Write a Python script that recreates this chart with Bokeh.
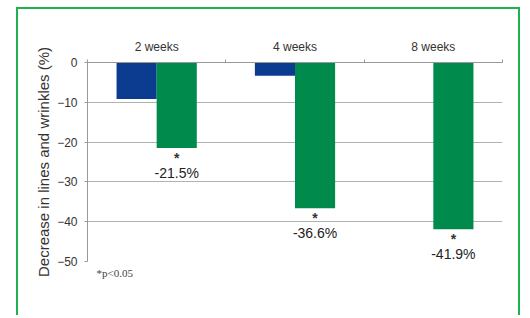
from bokeh.plotting import figure
from bokeh.models import ColumnDataSource, FixedTicker, LinearAxis, Range1d, Title
from bokeh.transform import dodge
from bokeh.embed import file_html
from bokeh.resources import INLINE
from bokeh.core.properties import value

weeks = ["2 weeks", "4 weeks", "8 weeks"]
control = [-9.2, -3.3, 0.0]
treated = [-21.5, -36.6, -41.9]
treated_labels = ["-21.5%", "-36.6%", "-41.9%"]
y_ticks = [-50, -40, -30, -20, -10, 0]

centers = [i + 0.5 for i in range(len(weeks))]
bounds = [float(i) for i in range(len(weeks) + 1)]

src = ColumnDataSource(dict(x=centers, week=weeks, control=control,
                            treated=treated, lab=treated_labels,
                            star=["*"] * len(weeks)))

FONT = "Liberation Sans"
TXT = "#333333"
GRID = "#b2b2b2"

p = figure(width=504, height=308, output_backend="svg", toolbar_location=None,
           x_range=Range1d(0, len(weeks)), y_range=Range1d(-50, 0),
           x_axis_location=None, y_axis_location="left",
           min_border_left=69, min_border_right=20, min_border_top=53, min_border_bottom=56,
           margin=(7, 0, 0, 16),
           styles={"border-top": "2px solid #1fb24f",
                   "border-left": "2px solid #1fb24f", "border-right": "2px solid #1fb24f"})
p.outline_line_color = None
p.background_fill_color = "white"
p.border_fill_color = "white"

p.vbar(x=dodge("x", -0.145, range=p.x_range), top=0, bottom="control", width=0.29,
       source=src, fill_color="#0b3c8f", line_color=None)
p.vbar(x=dodge("x", 0.145, range=p.x_range), top=0, bottom="treated", width=0.29,
       source=src, fill_color="#008a4b", line_color=None)

p.text(x=dodge("x", 0.145, range=p.x_range), y="treated", text="star", source=src,
       text_align="center", text_baseline="middle", y_offset=10,
       text_font=value(FONT), text_font_size="14px", text_font_style="bold", text_color=TXT)
p.text(x=dodge("x", 0.145, range=p.x_range), y="treated", text="lab", source=src,
       text_align="center", text_baseline="middle", y_offset=25,
       text_font=value(FONT), text_font_size="14px", text_color="#222222")

# top category axis
top = LinearAxis(ticker=FixedTicker(ticks=centers, minor_ticks=bounds))
top.major_label_overrides = {c: w for c, w in zip(centers, weeks)}
top.major_tick_line_color = None
top.minor_tick_out = 3
top.minor_tick_in = 0
top.minor_tick_line_color = "#999999"
top.axis_line_color = "#999999"
top.major_label_standoff = 3
top.major_label_text_font = FONT
top.major_label_text_font_size = "12px"
top.major_label_text_color = TXT
p.add_layout(top, "above")

ya = p.yaxis[0]
ya.ticker = FixedTicker(ticks=y_ticks)
ya.axis_label = "Decrease in lines and wrinkles (%)"
ya.axis_label_text_font = FONT
ya.axis_label_text_font_size = "15px"
ya.axis_label_text_font_style = "normal"
ya.axis_label_text_color = TXT
ya.axis_label_standoff = 2
ya.major_label_text_font = FONT
ya.major_label_text_font_size = "12px"
ya.major_label_text_color = TXT
ya.major_label_standoff = 7
ya.axis_line_color = "#999999"
ya.major_tick_line_color = "#999999"
ya.major_tick_out = 3
ya.major_tick_in = 0
ya.minor_tick_line_color = None

p.xgrid.visible = False
p.ygrid.ticker = FixedTicker(ticks=y_ticks)
p.ygrid.grid_line_color = GRID
p.ygrid.grid_line_width = 1

p.add_layout(Title(text="*p<0.05", align="left", offset=9, standoff=6,
                   text_font="Liberation Serif", text_font_size="11px",
                   text_font_style="normal", text_color="#444444"), "below")

open("out.html", "w").write(file_html(p, INLINE))
